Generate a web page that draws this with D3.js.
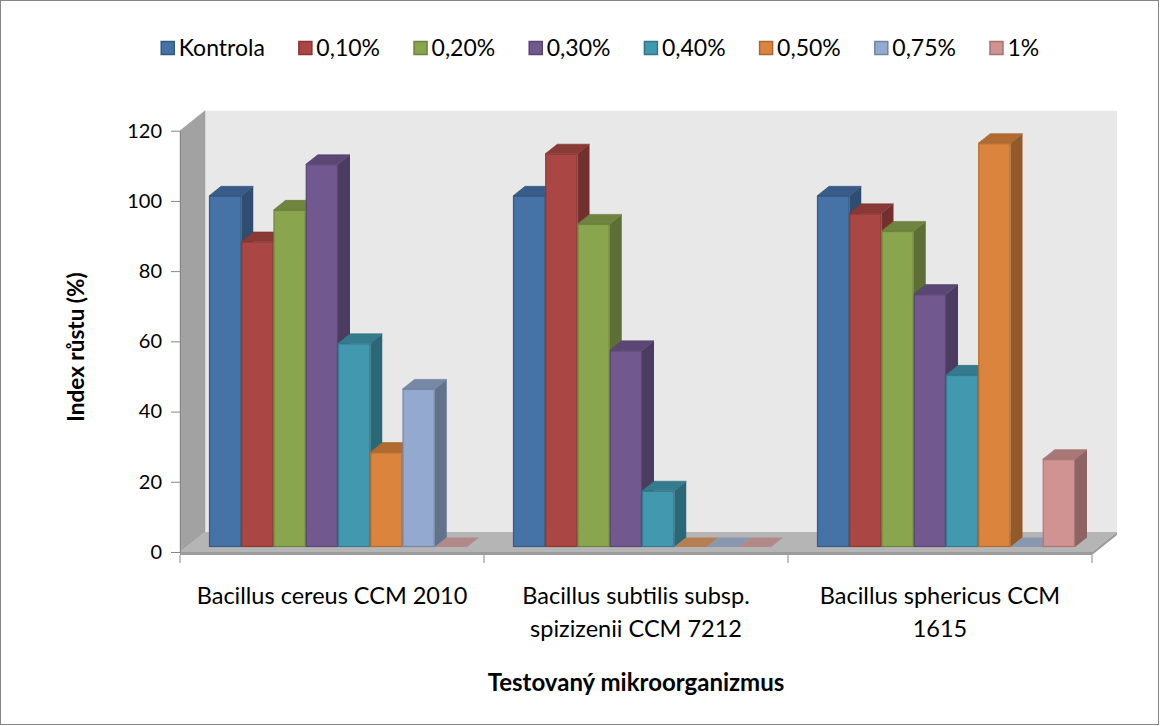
<!DOCTYPE html>
<html>
<head>
<meta charset="utf-8">
<script src="https://cdn.jsdelivr.net/npm/d3@7"></script>
<style>
  html, body { margin: 0; padding: 0; background: #fff; }
  svg { display: block; font-family: Lato, "Open Sans", sans-serif; }
</style>
</head>
<body>
<svg id="chart" width="1160" height="726"></svg>
<script>
// Growth index (%) of three Bacillus strains at increasing concentrations
const categories = ["Bacillus cereus CCM 2010", "Bacillus subtilis subsp. spizizenii CCM 7212", "Bacillus sphericus CCM 1615"];
const categoryLines = [["Bacillus cereus CCM 2010"], ["Bacillus subtilis subsp.", "spizizenii CCM 7212"], ["Bacillus sphericus CCM", "1615"]];
const seriesNames = ["Kontrola", "0,10%", "0,20%", "0,30%", "0,40%", "0,50%", "0,75%", "1%"];
const seriesColors = ["#4572A7", "#AA4643", "#89A54E", "#71588F", "#4198AF", "#DB843D", "#93A9CF", "#D19392"];
const kontrola = [100, 100, 100];
const c010 = [87, 112, 95];
const c020 = [96, 92, 90];
const c030 = [109, 56, 72];
const c040 = [58, 16, 49];
const c050 = [27, 0, 115];
const c075 = [45, 0, 0];
const c100 = [0, 0, 25];
const seriesValues = [kontrola, c010, c020, c030, c040, c050, c075, c100];
const yTicks = [0, 20, 40, 60, 80, 100, 120];
const yTitle = "Index růstu (%)";
const xTitle = "Testovaný mikroorganizmus";

const svg = d3.select("#chart");

// outer chart frame
svg.append("rect").attr("x", 0.5).attr("y", 0.5).attr("width", 1158).attr("height", 724)
  .attr("fill", "#fff").attr("stroke", "#868686");

// 3D projection: depth of walls and bars
const WALL_DX = 25, WALL_DY = -20;
const BAR_OFF_DX = 6, BAR_OFF_DY = -5;
const BAR_DX = 12, BAR_DY = -9.6;

const yAxisScale = d3.scaleLinear().domain([0, 120]).range([552, 130.7]);
const xCat = d3.scaleBand().domain(categories).range([180, 1092]);
const xSer = d3.scaleBand().domain(seriesNames).range([23, 281]);
const yBar = v => yAxisScale(v) + BAR_OFF_DY;

const x0 = xCat.range()[0], x1 = xCat.range()[1];
const yTop = yAxisScale(120), yBot = yAxisScale(0);

// back wall
svg.append("rect")
  .attr("x", x0 + WALL_DX).attr("y", yTop + WALL_DY)
  .attr("width", x1 - x0).attr("height", yBot - yTop)
  .attr("fill", "#e8e8e8");

// side wall
svg.append("polygon")
  .attr("points", [[x0, yTop], [x0 + WALL_DX, yTop + WALL_DY], [x0 + WALL_DX, yBot + WALL_DY], [x0, yBot]].join(" "))
  .attr("fill", "#a2a2a2").attr("stroke", "#9a9a9a").attr("stroke-width", 0.5);

// floor: top face and front edge
svg.append("polygon")
  .attr("points", [[x0, yBot], [x0 + WALL_DX, yBot + WALL_DY], [x1 + WALL_DX, yBot + WALL_DY], [x1, yBot]].join(" "))
  .attr("fill", "#b5b5b5");
svg.append("polygon")
  .attr("points", [[x0, yBot], [x1, yBot], [x1 + WALL_DX, yBot + WALL_DY], [x1 + WALL_DX, yBot + WALL_DY + 3], [x1, yBot + 3], [x0, yBot + 3]].join(" "))
  .attr("fill", "#9c9c9c");

// bars
const darken = (c, k) => d3.color(c).darker(k).formatHex();
categories.forEach((cat, ci) => {
  seriesNames.forEach((s, si) => {
    const v = seriesValues[si][ci];
    const col = seriesColors[si];
    const bx = xCat(cat) + BAR_OFF_DX + xSer(s);
    const w = xSer.bandwidth();
    const by0 = yBar(0), by = yBar(v);
    const g = svg.append("g");
    const topPts = [[bx, by], [bx + w, by], [bx + w + BAR_DX, by + BAR_DY], [bx + BAR_DX, by + BAR_DY]];
    if (v === 0) {
      g.append("polygon").attr("points", topPts.join(" "))
        .attr("fill", darken(col, 0.5)).attr("fill-opacity", 0.75);
      return;
    }
    g.append("polygon")
      .attr("points", [[bx + w, by], [bx + w + BAR_DX, by + BAR_DY], [bx + w + BAR_DX, by0 + BAR_DY], [bx + w, by0]].join(" "))
      .attr("fill", darken(col, 1.1));
    g.append("polygon").attr("points", topPts.join(" "))
      .attr("fill", darken(col, 0.6)).attr("stroke", darken(col, 0.9)).attr("stroke-width", 0.6);
    g.append("rect").attr("x", bx + 0.5).attr("y", by + 0.5).attr("width", w - 1).attr("height", by0 - by - 1)
      .attr("fill", col).attr("stroke", darken(col, 0.6)).attr("stroke-width", 1.2);
  });
});

// value axis
const yAxis = svg.append("g").attr("transform", `translate(${x0},0)`)
  .call(d3.axisLeft(yAxisScale).tickValues(yTicks).tickSize(9).tickPadding(9).tickSizeOuter(0));
yAxis.select(".domain").attr("stroke", "#868686");
yAxis.selectAll(".tick line").attr("stroke", "#868686");
yAxis.selectAll(".tick text").attr("font-size", 20).attr("fill", "#000").attr("font-family", "Lato");

// category tick marks
const catEdges = categories.map(c => xCat(c)).concat([x1]);
svg.selectAll("line.cat").data(catEdges).join("line")
  .attr("x1", d => d).attr("x2", d => d).attr("y1", yBot + 3).attr("y2", yBot + 11)
  .attr("stroke", "#868686");

// category labels
categoryLines.forEach((lines, i) => {
  const cx = xCat(categories[i]) + xCat.bandwidth() / 2;
  lines.forEach((ln, j) => {
    svg.append("text").attr("x", cx).attr("y", 604 + j * 33)
      .attr("text-anchor", "middle").attr("font-size", 23.5).text(ln);
  });
});

// axis titles
svg.append("text").attr("transform", "translate(84,347) rotate(-90)")
  .attr("text-anchor", "middle").attr("font-size", 22.5).attr("font-weight", "bold").text(yTitle);
svg.append("text").attr("x", 636).attr("y", 691)
  .attr("text-anchor", "middle").attr("font-size", 24).attr("font-weight", "bold").text(xTitle);

// legend
const legend = svg.append("g");
const LEGEND_GAP = 33.5;
let lx = 0;
seriesNames.forEach((s, i) => {
  const g = legend.append("g");
  g.append("rect").attr("x", 0.5).attr("y", 0.5).attr("width", 13).attr("height", 13)
    .attr("fill", seriesColors[i]).attr("stroke", darken(seriesColors[i], 0.7)).attr("stroke-width", 1.5);
  const t = g.append("text").attr("x", 18).attr("y", 15).attr("font-size", 23).text(s);
  const wdt = 18 + t.node().getComputedTextLength();
  g.attr("transform", `translate(${lx},0)`);
  lx += wdt + LEGEND_GAP;
});
const legendWidth = lx - LEGEND_GAP;
legend.attr("transform", `translate(${600 - legendWidth / 2},41)`);
</script>
</body>
</html>
